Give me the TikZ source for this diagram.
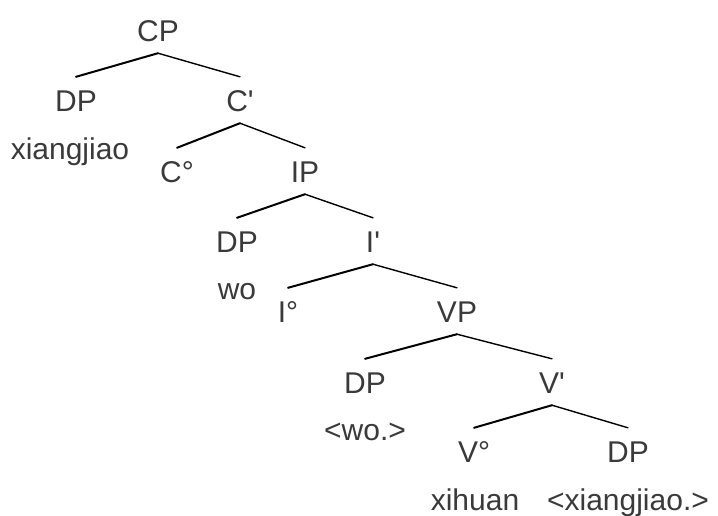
\documentclass[tikz,border=0pt]{standalone}
\usepackage{fontspec}
\setmainfont{Liberation Sans}
\usepackage{tikz}
\definecolor{labelgray}{HTML}{3A3A3A}
\tikzstyle{cat} = [anchor=base, text height=22pt, text depth=0pt, inner xsep=2pt, inner ysep=12pt, text=labelgray, font=\fontsize{30}{36}\selectfont]
\tikzstyle{word} = [anchor=base, inner sep=0pt, text=labelgray, font=\fontsize{30}{36}\selectfont]
\tikzstyle{lbranch} = [line width=2pt, line cap=round]
\tikzstyle{rbranch} = [line width=1.4pt, line cap=round]

\begin{document}
\begin{tikzpicture}[x=1pt, y=-1pt]
\useasboundingbox (0,0) rectangle (718,515);
%CP
\node(CP)at(158,41)[cat]{CP};
\node(DPa)at(76,111)[cat]{DP};
\node(xiangjiaoA)at(70,159)[word]{xiangjiao};
\node(Cbar)at(240,111)[cat]{C\textquotesingle};
\node(Chead)at(177,182)[cat]{C°};

%IP
\node(IP)at(305,182)[cat]{IP};
\node(DPb)at(237,252)[cat]{DP};
\node(wo)at(237,299)[word]{wo};
\node(Ibar)at(373,252)[cat]{I\textquotesingle};
\node(Ihead)at(288,322)[cat]{I°};

%VP
\node(VP)at(457,322)[cat]{VP};
\node(DPc)at(365,393)[cat]{DP};
\node(woTrace)at(365,440)[word]{<wo.>};
\node(Vbar)at(552,393)[cat]{V\textquotesingle};
\node(Vhead)at(474,462)[cat]{V°};
\node(DPd)at(628,462)[cat]{DP};
\node(xihuan)at(475,510)[word]{xihuan};
\node(xiangjiaoTrace)at(628,510)[word]{<xiangjiao.>};

%branches
\draw[lbranch](CP.south)--(DPa.north);
\draw[rbranch](CP.south)--(Cbar.north);
\draw[lbranch](Cbar.south)--(Chead.north);
\draw[rbranch](Cbar.south)--(IP.north);
\draw[lbranch](IP.south)--(DPb.north);
\draw[rbranch](IP.south)--(Ibar.north);
\draw[lbranch](Ibar.south)--(Ihead.north);
\draw[rbranch](Ibar.south)--(VP.north);
\draw[lbranch](VP.south)--(DPc.north);
\draw[rbranch](VP.south)--(Vbar.north);
\draw[lbranch](Vbar.south)--(Vhead.north);
\draw[rbranch](Vbar.south)--(DPd.north);
\end{tikzpicture}
\end{document}
